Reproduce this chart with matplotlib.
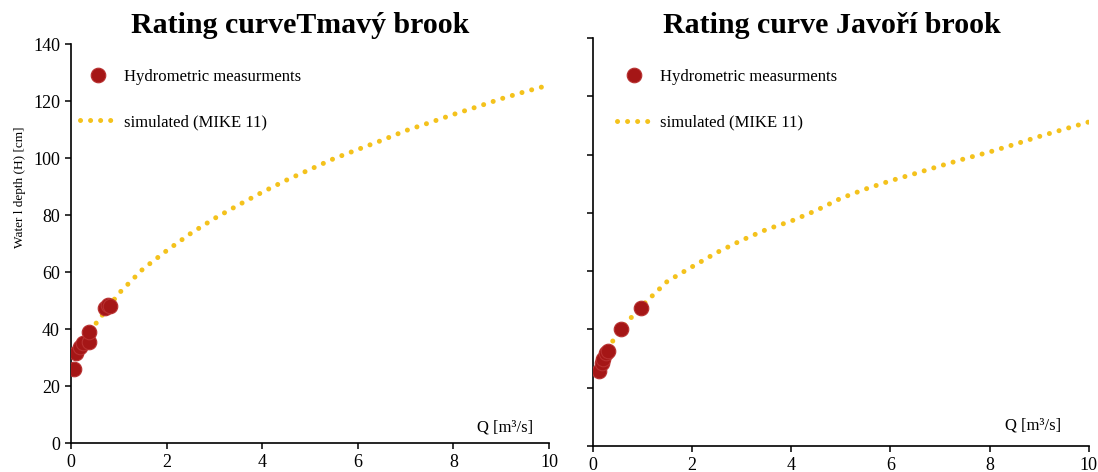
import matplotlib.pyplot as plt

# Rating curves for two brooks: measured points vs MIKE 11 simulation

# Tmavý brook
tmavy_meas_q = [0.06, 0.10, 0.19, 0.25, 0.37, 0.37, 0.71, 0.78, 0.82]
tmavy_meas_h = [26.0, 31.6, 33.7, 35.0, 35.5, 39.0, 47.3, 48.3, 48.0]
tmavy_sim_q = [0.2, 0.5, 1.0, 1.5, 2.0, 2.5, 3.0, 3.5, 4.0, 4.5, 5.0,
               5.5, 6.0, 6.5, 7.0, 7.5, 8.0, 8.5, 9.0, 9.5, 10.0]
tmavy_sim_h = [33.0, 41.5, 52.5, 61.0, 67.5, 73.5, 78.8, 83.5, 88.0, 92.2, 96.0,
               99.8, 103.0, 106.2, 109.6, 112.4, 115.3, 118.0, 120.8, 123.3, 125.6]

# Javoří brook
javori_meas_q = [0.12, 0.18, 0.20, 0.26, 0.30, 0.56, 0.97]
javori_meas_h = [25.7, 28.5, 30.0, 31.9, 32.6, 40.0, 47.4]
javori_sim_q = [0.3, 0.5, 1.0, 1.5, 2.0, 2.5, 3.0, 3.5, 4.0, 4.5, 5.0,
                5.5, 6.0, 6.5, 7.0, 7.5, 8.0, 8.5, 9.0, 9.5, 10.0]
javori_sim_h = [33.0, 39.0, 48.3, 56.5, 61.5, 66.4, 70.6, 74.3, 77.2, 80.8, 85.0,
                88.2, 91.0, 93.5, 96.1, 98.6, 100.9, 103.5, 106.2, 108.7, 111.2]

x_ticks = [0, 2, 4, 6, 8, 10]
y_ticks = [0, 20, 40, 60, 80, 100, 120, 140]

plt.rcParams['font.family'] = ['Liberation Serif', 'DejaVu Serif']

fig = plt.figure(figsize=(10.98, 4.72), dpi=100)
ax1 = fig.add_axes([0.0647, 0.0614, 0.4353, 0.8453])
ax2 = fig.add_axes([0.540, 0.0551, 0.4517, 0.8644])

red = '#a51616'
yellow = '#f4c21c'


def draw(ax, mq, mh, sq, sh, show_ylabels, qpos, legend_pos):
    ax.plot(sq, sh, color=yellow, linewidth=3.6, linestyle=(0, (0.01, 2.0)),
            dash_capstyle='round', label='simulated (MIKE 11)', zorder=2)
    ax.plot(mq, mh, 'o', color=red, markersize=10.5, markeredgecolor='#b83030',
            markeredgewidth=0.8, label='Hydrometric measurments', zorder=3)
    ax.set_xlim(0, 10)
    ax.set_ylim(0, 140)
    ax.set_xticks(x_ticks)
    ax.set_yticks(y_ticks)
    if not show_ylabels:
        ax.set_yticklabels([])
    ax.spines['top'].set_visible(False)
    ax.spines['right'].set_visible(False)
    ax.spines['left'].set_linewidth(1.2)
    ax.spines['bottom'].set_linewidth(1.2)
    ax.tick_params(direction='out', length=4.5, width=1.1, labelsize=13)
    ax.text(qpos[0], qpos[1], 'Q [m³/s]', transform=ax.transAxes,
            fontsize=12, ha='center', va='center')
    handles, labels = ax.get_legend_handles_labels()
    ax.legend(handles[::-1], labels[::-1], loc='upper left',
              bbox_to_anchor=legend_pos, frameon=False, fontsize=12,
              handlelength=2.1, handletextpad=0.5, labelspacing=1.75)


draw(ax1, tmavy_meas_q, tmavy_meas_h, tmavy_sim_q, tmavy_sim_h, True,
     (0.908, 0.04), (-0.012, 0.975))
draw(ax2, javori_meas_q, javori_meas_h, javori_sim_q, javori_sim_h, False,
     (0.887, 0.05), (0.018, 0.96))

fig.text(300 / 1098, 0.946, 'Rating curveTmavý brook', fontsize=21.5,
         fontweight='bold', ha='center', va='center')
fig.text(832 / 1098, 0.945, 'Rating curve Javoří brook', fontsize=21.5,
         fontweight='bold', ha='center', va='center')

ax1.set_ylabel('Water l depth (H) [cm]', fontsize=9.5)
ax1.yaxis.set_label_coords(-0.095, 0.64)

fig.savefig('out.png', dpi=100)
